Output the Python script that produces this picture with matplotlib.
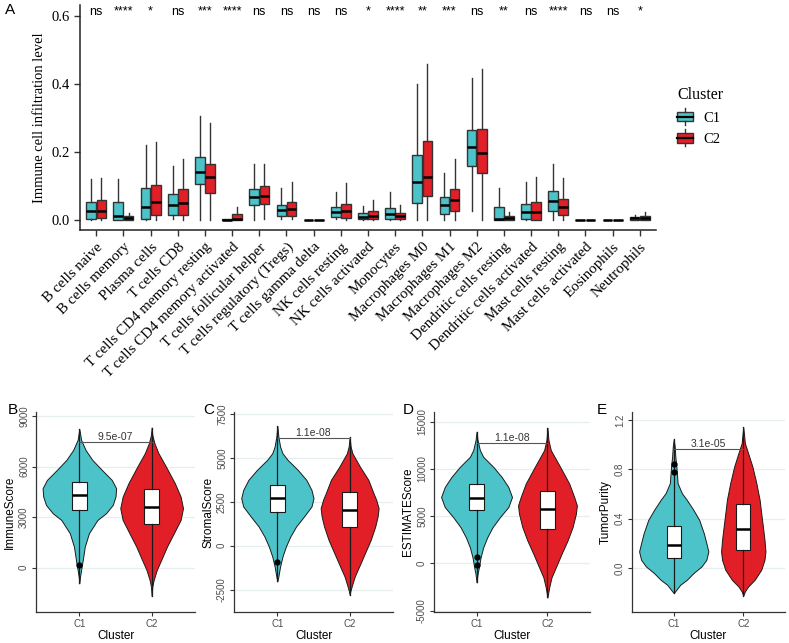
import numpy as np
import matplotlib
matplotlib.use('Agg')
import matplotlib.pyplot as plt
from matplotlib.patches import Rectangle, Patch
from matplotlib.lines import Line2D
from matplotlib.legend_handler import HandlerBase

TEAL = '#4CC3C9'
RED = '#E21F26'
SERIF = 'Liberation Serif'
SANS = 'Liberation Sans'

# ---- panel A data (box summary per cell type) ----
cells = ['B cells naive', 'B cells memory', 'Plasma cells', 'T cells CD8',
         'T cells CD4 memory resting', 'T cells CD4 memory activated',
         'T cells follicular helper', 'T cells regulatory (Tregs)',
         'T cells gamma delta', 'NK cells resting', 'NK cells activated',
         'Monocytes', 'Macrophages M0', 'Macrophages M1', 'Macrophages M2',
         'Dendritic cells resting', 'Dendritic cells activated',
         'Mast cells resting', 'Mast cells activated', 'Eosinophils', 'Neutrophils']
signif = ['ns', '****', '*', 'ns', '***', '****', 'ns', 'ns', 'ns', 'ns', '*',
          '****', '**', '***', 'ns', '**', 'ns', '****', 'ns', 'ns', '*']

c1_lo  = [0, 0, 0, 0.001, 0, 0, 0, 0.003, 0, 0.003, 0, 0, 0, 0, 0.027, 0, 0, 0, 0, 0, 0]
c1_q1  = [0.003, 0, 0.003, 0.015, 0.106, 0, 0.043, 0.010, 0, 0.008, 0.002, 0.003, 0.049, 0.016, 0.159, 0, 0.002, 0.027, 0, 0, 0]
c1_med = [0.026, 0.012, 0.037, 0.045, 0.142, 0, 0.067, 0.029, 0, 0.024, 0.008, 0.017, 0.110, 0.045, 0.214, 0.002, 0.022, 0.055, 0, 0, 0.004]
c1_q3  = [0.052, 0.052, 0.093, 0.075, 0.186, 0.001, 0.092, 0.044, 0, 0.039, 0.019, 0.034, 0.190, 0.066, 0.265, 0.038, 0.046, 0.085, 0, 0, 0.008]
c1_hi  = [0.120, 0.120, 0.219, 0.157, 0.304, 0.002, 0.165, 0.093, 0, 0.081, 0.041, 0.082, 0.400, 0.137, 0.417, 0.093, 0.110, 0.165, 0, 0, 0.015]

c2_lo  = [0, 0, 0, 0, 0, 0, 0.003, 0.003, 0, 0, 0, 0, 0, 0, 0, 0, 0, 0, 0, 0, 0]
c2_q1  = [0.005, 0, 0.015, 0.015, 0.080, 0, 0.046, 0.010, 0, 0.005, 0.002, 0.002, 0.071, 0.026, 0.139, 0, 0, 0.015, 0, 0, 0]
c2_med = [0.026, 0.006, 0.052, 0.049, 0.126, 0.002, 0.069, 0.031, 0, 0.026, 0.012, 0.012, 0.127, 0.057, 0.196, 0.006, 0.024, 0.039, 0, 0, 0.006]
c2_q3  = [0.059, 0.010, 0.103, 0.090, 0.164, 0.017, 0.098, 0.051, 0, 0.047, 0.026, 0.020, 0.231, 0.090, 0.267, 0.012, 0.053, 0.061, 0, 0, 0.010]
c2_hi  = [0.124, 0.020, 0.228, 0.180, 0.284, 0.039, 0.165, 0.110, 0, 0.108, 0.057, 0.044, 0.459, 0.180, 0.443, 0.024, 0.127, 0.123, 0, 0, 0.023]

# ---- panels B-E: violin outlines (value, half width), box summary, p-values ----
b_c1_vals = [8220, 7587, 6993, 6399, 5804, 5210, 4715, 4220, 3725, 3230, 2834, 2042, 1250, 457, -137, -533, -929]
b_c1_hw   = [0, .024, .085, .179, .311, .448, .509, .500, .462, .368, .250, .132, .075, .047, .024, .009, 0]
b_c2_vals = [8319, 7884, 7390, 6797, 6000, 5014, 4218, 3528, 2834, 2043, 1248, 457, -137, -731, -1129, -1683]
b_c2_hw   = [0, .009, .038, .094, .198, .321, .401, .434, .401, .307, .212, .132, .071, .028, .009, 0]

c_c1_vals = [6818, 6212, 5644, 5265, 4887, 4318, 3750, 3182, 2708, 2235, 1667, 1098, 530, -38, -606, -1174, -1742, -2027]
c_c1_hw   = [0, .014, .038, .071, .142, .283, .401, .472, .500, .472, .368, .259, .179, .118, .071, .038, .014, 0]
c_c2_vals = [6174, 5644, 5265, 4508, 3750, 2993, 2614, 2140, 1667, 1098, 341, -417, -1174, -1742, -2311, -2595, -2784]
c_c2_hw   = [0, .014, .038, .142, .259, .330, .368, .401, .387, .354, .292, .212, .132, .071, .028, .009, 0]

d_c1_vals = [13942, 13055, 11991, 11282, 10218, 9154, 8090, 7026, 5962, 4898, 3834, 2770, 1706, 642, -422, -1131, -2018]
d_c1_hw   = [0, .014, .047, .094, .236, .354, .448, .500, .448, .330, .226, .151, .094, .057, .033, .014, 0]
d_c2_vals = [14367, 13055, 11991, 10218, 8445, 7026, 6139, 5253, 3834, 2415, 997, -422, -1486, -2550, -3614]
d_c2_hw   = [0, .014, .047, .179, .307, .377, .415, .401, .354, .283, .198, .118, .057, .024, 0]

e_c1_vals = [1.044, 0.985, 0.904, 0.823, 0.688, 0.607, 0.553, 0.472, 0.391, 0.283, 0.202, 0.135, 0.067, 0.013, -0.041, -0.095, -0.135, -0.176, -0.203]
e_c1_hw   = [0, .014, .023, .038, .056, .117, .188, .282, .366, .432, .469, .498, .469, .399, .282, .188, .094, .038, 0]
e_c2_vals = [1.141, 1.066, 1.012, 0.931, 0.823, 0.688, 0.553, 0.445, 0.337, 0.229, 0.135, 0.067, -0.014, -0.095, -0.149, -0.189, -0.224]
e_c2_hw   = [0, .014, .023, .070, .131, .188, .235, .258, .282, .305, .319, .305, .258, .164, .070, .023, 0]

panels = [
    dict(tag='B', ylabel='ImmuneScore', box=[(3428, 4319, 5109), (2578, 3624, 4658)],
         fliers=[[178], []], p='9.5e-07', p_y=7430,
         ticks=[0, 3000, 6000, 9000], ylim=(-2630, 9240),
         v=[(b_c1_vals, b_c1_hw), (b_c2_vals, b_c2_hw)], px=(36, 195), lab=(8, 410)),
    dict(tag='C', ylabel='StromalScore', box=[(1913, 2708, 3466), (1042, 2045, 3049)],
         fliers=[[-947], []], p='1.1e-08', p_y=6128,
         ticks=[-2500, 0, 2500, 5000, 7500], ylim=(-3767, 7614),
         v=[(c_c1_vals, c_c1_hw), (c_c2_vals, c_c2_hw)], px=(234, 393), lab=(203, 410)),
    dict(tag='D', ylabel='ESTIMATEScore', box=[(5607, 6958, 8448), (3692, 5746, 7661)],
         fliers=[[640, -140], []], p='1.1e-08', p_y=12768,
         ticks=[-5000, 0, 5000, 10000, 15000], ylim=(-5150, 16030),
         v=[(d_c1_vals, d_c1_hw), (d_c2_vals, d_c2_hw)], px=(434, 590), lab=(403, 410)),
    dict(tag='E', ylabel='TumorPurity', box=[(0.083, 0.191, 0.345), (0.148, 0.318, 0.521)],
         fliers=[[0.845, 0.782], []], p='3.1e-05', p_y=0.964,
         ticks=[0.0, 0.4, 0.8, 1.2], ylim=(-0.356, 1.265),
         v=[(e_c1_vals, e_c1_hw), (e_c2_vals, e_c2_hw)], px=(632, 785), lab=(597, 410)),
]
groups = ['C1', 'C2']

W, H = 789, 643
fig = plt.figure(figsize=(W / 100, H / 100), dpi=100)


def px_axes(l, t, r, b):
    return fig.add_axes([l / W, 1 - b / H, (r - l) / W, (b - t) / H])


# ---------------- panel A ----------------
axA = px_axes(80, 5, 656, 230)
pos = np.arange(1, len(cells) + 1)


def stats(lo, q1, med, q3, hi):
    return [dict(whislo=a, q1=b, med=c, q3=d, whishi=e, fliers=[])
            for a, b, c, d, e in zip(lo, q1, med, q3, hi)]


for st, off, col in [(stats(c1_lo, c1_q1, c1_med, c1_q3, c1_hi), -0.1875, TEAL),
                     (stats(c2_lo, c2_q1, c2_med, c2_q3, c2_hi), 0.1875, RED)]:
    axA.bxp(st, positions=pos + off, widths=0.36, patch_artist=True, showcaps=False,
            boxprops=dict(facecolor=col, edgecolor='#333333', linewidth=1.0),
            medianprops=dict(color='black', linewidth=1.8),
            whiskerprops=dict(color='#333333', linewidth=1.0),
            manage_ticks=False)

for p, s in zip(pos, signif):
    axA.text(p, 0.612, s, ha='center', va='center', fontsize=9, family=SANS)

axA.set_xlim(0.4, 21.6)
axA.set_ylim(-0.03, 0.632)
axA.set_xticks(pos)
axA.set_xticklabels(cells, rotation=45, ha='right', va='top', rotation_mode='anchor',
                    fontsize=10.8, family=SERIF)
axA.set_yticks([0, 0.2, 0.4, 0.6])
axA.set_yticklabels(['0.0', '0.2', '0.4', '0.6'], fontsize=10.5, family=SERIF)
axA.set_ylabel('Immune cell infiltration level', fontsize=10.5, family=SERIF, labelpad=4)
for sp in ['top', 'right']:
    axA.spines[sp].set_visible(False)
for sp in ['left', 'bottom']:
    axA.spines[sp].set_linewidth(1.1)
    axA.spines[sp].set_color('#222222')
axA.tick_params(length=4, width=1, color='#333333')


class BoxKey(HandlerBase):
    def create_artists(self, legend, orig_handle, xdescent, ydescent, width, height, fontsize, trans):
        fc = orig_handle.get_facecolor()
        x0, y0 = -xdescent, -ydescent
        rect = Rectangle((x0, y0 + 0.12 * height), width, 0.76 * height, facecolor=fc,
                         edgecolor='#333333', lw=1, transform=trans)
        med = Line2D([x0, x0 + width], [y0 + height / 2] * 2, color='black', lw=1.6, transform=trans)
        up = Line2D([x0 + width / 2] * 2, [y0 + 0.88 * height, y0 + 1.2 * height],
                    color='#333333', lw=1, transform=trans)
        dn = Line2D([x0 + width / 2] * 2, [y0 - 0.2 * height, y0 + 0.12 * height],
                    color='#333333', lw=1, transform=trans)
        return [rect, med, up, dn]


leg = fig.legend([Patch(facecolor=TEAL), Patch(facecolor=RED)], groups, title='Cluster',
                 loc='upper left', bbox_to_anchor=(667 / W, 1 - 77 / H), frameon=False,
                 handler_map={Patch: BoxKey()}, prop=dict(family=SERIF, size=10.5),
                 title_fontproperties=dict(family=SERIF, size=11.5),
                 handlelength=1.1, handleheight=0.9, labelspacing=0.5, handletextpad=0.7,
                 alignment='left', borderpad=0.2)

fig.text(5 / W, 1 - 10 / H, 'A', fontsize=11, family=SANS, va='center')

# ---------------- panels B-E ----------------
for pn in panels:
    ax = px_axes(pn['px'][0], 412, pn['px'][1], 612)
    for i, (vals, hw) in enumerate(pn['v']):
        c = i + 1
        vals = np.array(vals)
        hw = np.array(hw)
        ax.fill_betweenx(vals, c - hw, c + hw, facecolor=[TEAL, RED][i],
                         edgecolor='#1a1a1a', linewidth=0.7, zorder=2)
        q1, med, q3 = pn['box'][i]
        st = [dict(whislo=vals.min(), q1=q1, med=med, q3=q3, whishi=vals.max(),
                   fliers=pn['fliers'][i])]
        ax.bxp(st, positions=[c], widths=0.2, patch_artist=True, showcaps=False,
               boxprops=dict(facecolor='white', edgecolor='#1a1a1a', linewidth=0.8),
               medianprops=dict(color='black', linewidth=1.8),
               whiskerprops=dict(color='#1a1a1a', linewidth=0.9),
               flierprops=dict(marker='o', markerfacecolor='black', markeredgecolor='black',
                               markersize=3.5),
               manage_ticks=False, zorder=3)
    ax.plot([1, 2], [pn['p_y'], pn['p_y']], color='#555555', lw=0.8, zorder=4)
    ax.text(1.5, pn['p_y'], pn['p'], ha='center', va='bottom', fontsize=7.5,
            family=SANS, color='#333333')
    ax.set_xlim(0.4, 2.6)
    ax.set_ylim(*pn['ylim'])
    ax.set_xticks([1, 2])
    ax.set_xticklabels(groups, fontsize=7, family=SANS, color='#4D4D4D')
    ax.set_yticks(pn['ticks'])
    labs = ['%.1f' % t for t in pn['ticks']] if pn['tag'] == 'E' else [str(t) for t in pn['ticks']]
    ax.set_yticklabels(labs, rotation=90, va='center', fontsize=7, family=SANS, color='#4D4D4D')
    ax.grid(axis='y', color='#E6EEEE', linewidth=0.9, zorder=0)
    ax.set_axisbelow(True)
    ax.set_xlabel('Cluster', fontsize=8.5, family=SANS, labelpad=1)
    ax.set_ylabel(pn['ylabel'], fontsize=8.5, family=SANS, labelpad=2)
    for sp in ['top', 'right']:
        ax.spines[sp].set_visible(False)
    for sp in ['left', 'bottom']:
        ax.spines[sp].set_linewidth(0.9)
        ax.spines[sp].set_color('#333333')
    ax.tick_params(length=3, width=0.8, color='#333333', pad=2)
    fig.text(pn['lab'][0] / W, 1 - pn['lab'][1] / H, pn['tag'], fontsize=11, family=SANS, va='center')

fig.savefig('out.png', dpi=100)
